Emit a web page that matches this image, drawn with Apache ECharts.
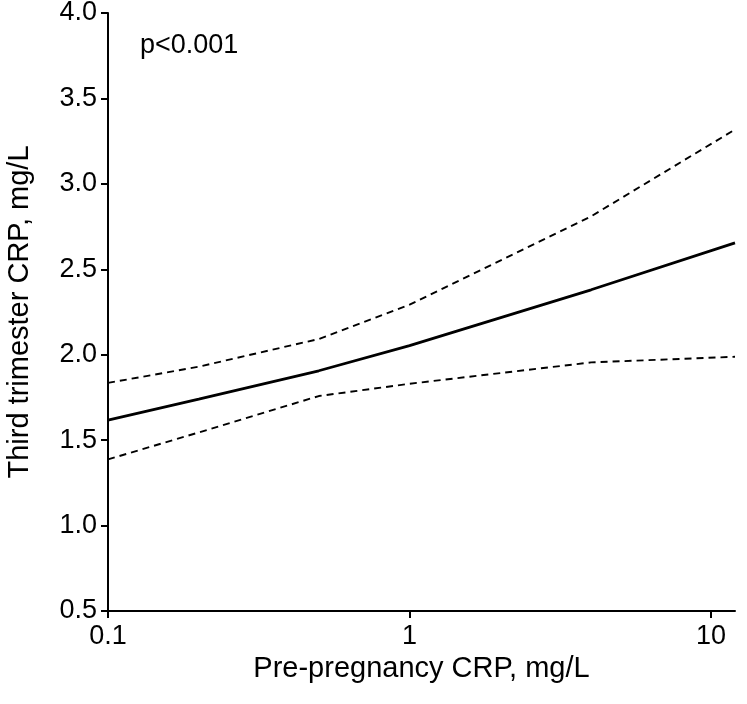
<!DOCTYPE html>
<html>
<head>
<meta charset="utf-8">
<script src="https://cdn.jsdelivr.net/npm/echarts@6/dist/echarts.min.js"></script>
<style>
  html, body { margin: 0; padding: 0; background: #fff; }
  #chart { width: 747px; height: 704px; }
</style>
</head>
<body>
<div id="chart"></div>
<script>
// pre-pregnancy CRP (mg/L), log scale
const xVals = [0.1, 0.2, 0.5, 1, 4, 12]
// fitted third trimester CRP and its 95% limits
const fit = [1.617, 1.74, 1.906, 2.053, 2.38, 2.655]
const upper = [1.835, 1.93, 2.092, 2.293, 2.81, 3.318]
const lower = [1.387, 1.545, 1.758, 1.83, 1.955, 1.988]
const yTicks = [0.5, 1.0, 1.5, 2.0, 2.5, 3.0, 3.5, 4.0]

const pairs = (ys) => xVals.map((x, i) => [x, ys[i]])

const font = 'Liberation Sans, Arial, sans-serif'
let chart = echarts.init(document.getElementById('chart'))

chart.setOption({
  animation: false,
  grid: { left: 108, right: 12, top: 13, bottom: 93, outerBoundsMode: 'none' },
  graphic: [{
    type: 'text',
    left: 140,
    top: 32,
    style: { text: 'p<0.001', font: '27px ' + font, fill: '#000' }
  }],
  xAxis: {
    type: 'log',
    logBase: 10,
    min: 0.1,
    max: 12,
    name: 'Pre-pregnancy CRP, mg/L',
    nameLocation: 'middle',
    nameGap: 34,
    nameTextStyle: { fontFamily: font, fontSize: 29, color: '#000' },
    axisLine: { lineStyle: { color: '#000', width: 2 } },
    axisTick: { length: 7, lineStyle: { color: '#000', width: 2 } },
    axisLabel: {
      fontFamily: font, fontSize: 27, color: '#000', margin: 12,
      showMaxLabel: false,
      formatter: v => ([0.1, 1, 10].indexOf(+v.toPrecision(3)) >= 0 ? String(+v.toPrecision(3)) : '')
    },
    splitLine: { show: false }
  },
  yAxis: {
    type: 'value',
    min: yTicks[0],
    max: yTicks[yTicks.length - 1],
    interval: 0.5,
    name: 'Third trimester CRP, mg/L',
    nameLocation: 'middle',
    nameGap: 74,
    nameTextStyle: { fontFamily: font, fontSize: 29, color: '#000' },
    axisLine: { show: true, lineStyle: { color: '#000', width: 2 } },
    axisTick: { show: true, length: 7, lineStyle: { color: '#000', width: 2 } },
    axisLabel: {
      fontFamily: font, fontSize: 27, color: '#000', margin: 11,
      formatter: v => v.toFixed(1)
    },
    splitLine: { show: false }
  },
  series: [
    {
      type: 'line', data: pairs(fit), symbol: 'none',
      lineStyle: { color: '#000', width: 2.8 }
    },
    {
      type: 'line', data: pairs(upper), symbol: 'none',
      lineStyle: { color: '#000', width: 1.9, type: [7, 5] }
    },
    {
      type: 'line', data: pairs(lower), symbol: 'none',
      lineStyle: { color: '#000', width: 1.9, type: [7, 5] }
    }
  ]
})
</script>
</body>
</html>
